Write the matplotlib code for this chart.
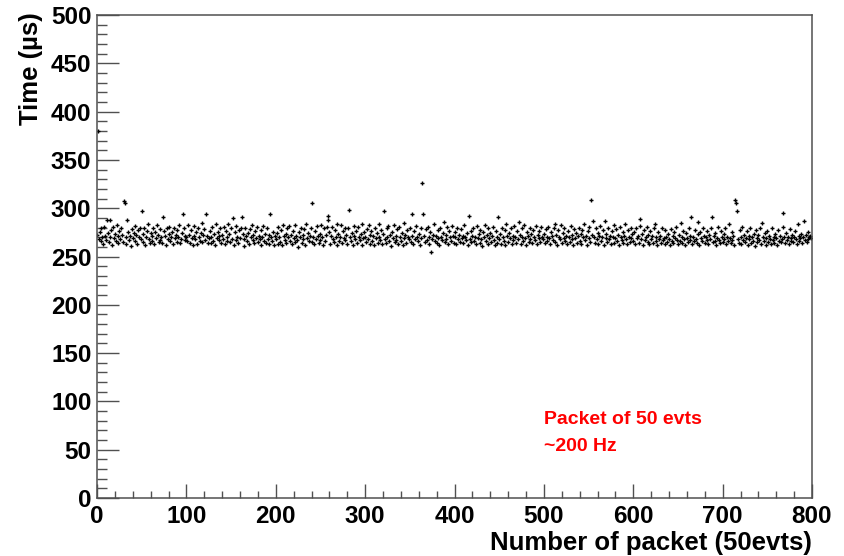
import numpy as np
import matplotlib
matplotlib.use("Agg")
import matplotlib.pyplot as plt
from matplotlib.ticker import MultipleLocator

# Time per packet (µs), packets 0..799 in blocks of 100
seg0 = [272, 380, 268, 275, 266, 279, 270, 263, 281, 271,
        267, 288, 274, 265, 288, 270, 277, 262, 281, 269,
        273, 266, 283, 271, 264, 276, 268, 279, 272, 265,
        307, 305, 270, 263, 288, 275, 267, 271, 261, 278,
        269, 274, 282, 266, 272, 263, 277, 270, 280, 268,
        297, 265, 273, 279, 262, 270, 276, 284, 268, 264,
        274, 271, 266, 280, 263, 275, 269, 283, 272, 265,
        278, 267, 270, 264, 291, 276, 271, 262, 279, 268,
        273, 281, 266, 270, 275, 263, 280, 269, 272, 265,
        277, 270, 283, 264, 268, 274, 294, 279, 271, 267]
seg1 = [270, 266, 283, 272, 264, 277, 269, 262, 282, 271,
        268, 275, 263, 280, 270, 266, 274, 285, 265, 272,
        278, 267, 294, 271, 264, 269, 276, 264, 270, 281,
        266, 273, 262, 284, 269, 275, 267, 271, 279, 264,
        272, 268, 281, 263, 276, 270, 266, 284, 273, 265,
        279, 268, 290, 262, 275, 282, 267, 270, 264, 277,
        269, 280, 291, 273, 268, 261, 280, 271, 266, 274,
        263, 278, 270, 283, 267, 272, 264, 276, 269, 281,
        265, 271, 268, 262, 277, 270, 282, 266, 273, 264,
        279, 268, 272, 263, 294, 270, 266, 275, 262, 271]
seg2 = [268, 274, 263, 281, 270, 265, 277, 262, 283, 271,
        267, 273, 264, 279, 270, 282, 266, 272, 263, 276,
        269, 283, 265, 271, 267, 260, 275, 270, 280, 264,
        272, 268, 278, 262, 284, 269, 274, 266, 271, 280,
        265, 305, 270, 263, 276, 268, 282, 271, 264, 273,
        267, 283, 270, 262, 279, 266, 272, 281, 292, 288,
        275, 263, 271, 281, 268, 265, 277, 270, 262, 284,
        273, 266, 270, 283, 264, 276, 269, 280, 267, 272,
        263, 279, 298, 270, 266, 274, 262, 282, 271, 268,
        276, 264, 281, 270, 267, 273, 262, 284, 269, 275]
seg3 = [270, 265, 278, 268, 283, 263, 272, 276, 266, 271,
        262, 280, 269, 274, 264, 284, 270, 267, 277, 263,
        273, 297, 268, 264, 279, 270, 282, 266, 272, 261,
        275, 269, 283, 265, 271, 267, 278, 263, 281, 270,
        266, 274, 262, 285, 269, 272, 264, 277, 270, 268,
        280, 265, 294, 271, 263, 276, 268, 282, 270, 266,
        273, 262, 279, 269, 326, 294, 271, 265, 278, 267,
        281, 270, 263, 275, 255, 268, 272, 284, 266, 271,
        264, 277, 269, 262, 280, 270, 267, 274, 286, 265,
        272, 268, 281, 263, 276, 270, 266, 282, 271, 264]
seg4 = [270, 275, 263, 280, 268, 272, 265, 278, 269, 271,
        264, 283, 270, 267, 274, 262, 292, 268, 276, 265,
        271, 279, 266, 270, 263, 282, 269, 273, 264, 277,
        268, 261, 275, 270, 283, 266, 272, 263, 279, 269,
        274, 265, 271, 281, 267, 262, 276, 270, 264, 291,
        268, 273, 263, 280, 270, 266, 277, 262, 284, 271,
        265, 274, 269, 279, 263, 271, 267, 282, 270, 264,
        276, 268, 286, 272, 263, 279, 270, 266, 283, 269,
        262, 275, 271, 265, 280, 268, 273, 264, 277, 270,
        267, 282, 263, 272, 269, 276, 265, 281, 270, 268]
seg5 = [273, 264, 278, 270, 266, 281, 269, 263, 275, 271,
        267, 279, 284, 265, 272, 262, 277, 270, 268, 283,
        264, 274, 269, 280, 266, 271, 263, 276, 270, 265,
        282, 268, 272, 262, 278, 269, 274, 264, 271, 280,
        266, 273, 263, 277, 270, 284, 267, 271, 262, 276,
        269, 281, 265, 309, 272, 287, 270, 264, 279, 268,
        274, 263, 271, 282, 266, 270, 277, 262, 287, 269,
        273, 265, 280, 268, 271, 263, 276, 270, 283, 264,
        269, 278, 266, 272, 262, 281, 270, 267, 275, 264,
        271, 284, 268, 263, 277, 270, 265, 280, 269, 273]
seg6 = [266, 275, 263, 279, 269, 271, 264, 282, 289, 268,
        273, 262, 277, 267, 270, 281, 265, 272, 263, 276,
        268, 271, 264, 279, 284, 266, 270, 262, 275, 268,
        271, 264, 280, 267, 269, 263, 277, 270, 265, 273,
        268, 262, 278, 266, 271, 264, 275, 269, 281, 267,
        263, 272, 266, 285, 270, 264, 276, 268, 262, 274,
        269, 265, 279, 267, 271, 291, 263, 270, 266, 277,
        268, 264, 273, 286, 262, 275, 269, 266, 280, 271,
        264, 270, 267, 276, 263, 272, 268, 279, 291, 265,
        271, 266, 274, 262, 269, 281, 267, 264, 276, 270]
seg7 = [265, 273, 268, 279, 263, 270, 266, 284, 269, 264,
        275, 267, 271, 262, 309, 305, 297, 268, 264, 277,
        270, 263, 281, 267, 272, 265, 269, 276, 262, 271,
        268, 279, 264, 270, 266, 273, 261, 277, 269, 265,
        272, 267, 280, 263, 285, 270, 266, 274, 262, 269,
        276, 265, 271, 268, 263, 279, 267, 270, 264, 273,
        269, 262, 277, 266, 271, 265, 268, 281, 295, 270,
        264, 274, 267, 270, 263, 278, 269, 266, 272, 265,
        270, 276, 268, 263, 284, 271, 266, 269, 273, 264,
        270, 287, 267, 272, 265, 275, 268, 270, 271, 269]

times = seg0 + seg1 + seg2 + seg3 + seg4 + seg5 + seg6 + seg7
packets = np.arange(len(times))

x_label = "Number of packet (50evts)"
y_label = "Time (\u00b5s)"
note_lines = ["Packet of 50 evts", "~200 Hz"]

plt.rcParams['font.family'] = ['Liberation Sans', 'DejaVu Sans']
plt.rcParams['font.weight'] = 'bold'

fig = plt.figure(figsize=(8.44, 5.56), dpi=100)
ax = fig.add_axes([97/844, 1 - 498/556, (812-97)/844, (498-15)/556])

ax.plot(packets, times, linestyle='none', marker='+', color='black',
        markersize=3.5, markeredgewidth=1.0)

ax.set_xlim(0, 800)
ax.set_ylim(0, 500)

ax.xaxis.set_major_locator(MultipleLocator(100))
ax.xaxis.set_minor_locator(MultipleLocator(20))
ax.yaxis.set_major_locator(MultipleLocator(50))
ax.yaxis.set_minor_locator(MultipleLocator(10))

spine_color = '#505050'
for s in ax.spines.values():
    s.set_color(spine_color)
    s.set_linewidth(1.1)

ax.tick_params(axis='y', which='major', direction='in', length=15.5, width=1.0,
               color=spine_color, labelsize=17.5, pad=4)
ax.tick_params(axis='y', which='minor', direction='in', length=7.5, width=1.0,
               color=spine_color)
ax.tick_params(axis='x', which='major', direction='in', length=10, width=1.0,
               color=spine_color, labelsize=17.5, pad=5)
ax.tick_params(axis='x', which='minor', direction='in', length=5, width=1.0,
               color=spine_color)
for lab in ax.get_xticklabels() + ax.get_yticklabels():
    lab.set_fontweight('bold')

fig.text(31/844, 1 - 12/556, y_label, rotation=90, ha='center', va='top',
         fontsize=18.5, fontweight='bold')
fig.text(812/844, 1 - 543/556, x_label, ha='right', va='center',
         fontsize=18.5, fontweight='bold')

ax.text(500, 81, note_lines[0], color='#ff0000', fontsize=14,
        fontweight='bold', ha='left', va='center')
ax.text(500, 53, note_lines[1], color='#ff0000', fontsize=14,
        fontweight='bold', ha='left', va='center')

fig.savefig('out.png', dpi=100)
